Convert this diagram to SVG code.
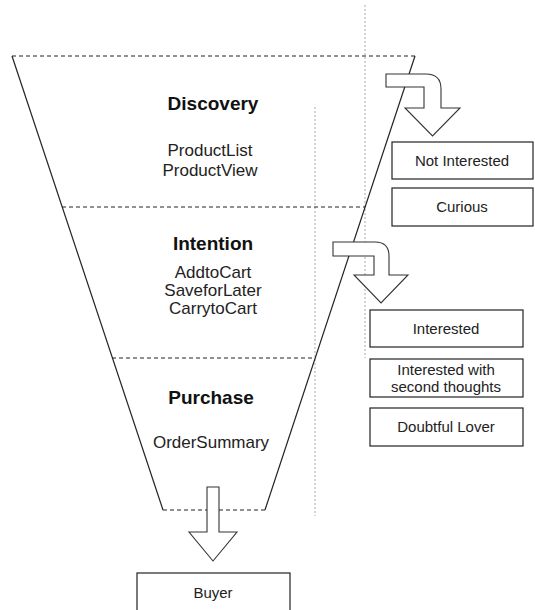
<svg xmlns="http://www.w3.org/2000/svg" width="535" height="610" viewBox="0 0 535 610">
<style>
.bg{fill:#fff}
.dash{stroke:#222;stroke-width:1;stroke-dasharray:4 3;fill:none}
.dot{stroke:#aaa;stroke-width:1;stroke-dasharray:2 2;fill:none}
.side{stroke:#222;stroke-width:1.2;fill:none}
.box{fill:#fff;stroke:#222;stroke-width:1.2}
.arr{fill:#fff;stroke:#333;stroke-width:1.1;stroke-linejoin:miter}
.h{font-family:"Liberation Sans",Arial,sans-serif;font-weight:bold;font-size:19px;fill:#111;text-anchor:middle}
.t{font-family:"Liberation Sans",Arial,sans-serif;font-size:17px;fill:#222;text-anchor:middle}
.b{font-family:"Liberation Sans",Arial,sans-serif;font-size:15px;fill:#222;text-anchor:middle}
</style>
<rect class="bg" x="0" y="0" width="535" height="610"/>
<g id="guides">
<line class="dot" x1="365" y1="5" x2="365" y2="358"/>
<line class="dot" x1="315" y1="107" x2="315" y2="516"/>
</g>
<g id="funnel">
<line class="side" x1="12" y1="56" x2="163" y2="510"/>
<line class="side" x1="415" y1="56" x2="265" y2="510"/>
<line class="dash" x1="12" y1="56" x2="415" y2="56"/>
<line class="dash" x1="62" y1="207" x2="365" y2="207"/>
<line class="dash" x1="112" y1="358" x2="315" y2="358"/>
<line class="dash" x1="163" y1="510" x2="265" y2="510"/>
</g>
<g id="discovery">
<text class="h" x="213" y="110">Discovery</text>
<text class="t" x="210" y="156">ProductList</text>
<text class="t" x="210" y="176">ProductView</text>
</g>
<g id="intention">
<text class="h" x="213" y="250">Intention</text>
<text class="t" x="213" y="278">AddtoCart</text>
<text class="t" x="213" y="296">SaveforLater</text>
<text class="t" x="213" y="314">CarrytoCart</text>
</g>
<g id="purchase">
<text class="h" x="211" y="404">Purchase</text>
<text class="t" x="211" y="448">OrderSummary</text>
</g>
<g id="connectors">
<path class="arr" d="M386,74 H426 Q441,74 441,89 V108 H460 L432.5,136 L405,108 H424 V87 H386 Z"/>
<path class="arr" d="M333,242 H375 Q389,242 389,256 V275 H408 L381,303 L354,275 H374 V256 H333 Z"/>
<path class="arr" d="M207,487 H219 V532 H237 L213,561 L189,532 H207 Z"/>
</g>
<g id="not-interested">
<rect class="box" x="392" y="142" width="141" height="37"/>
<text class="b" x="462" y="166">Not Interested</text>
</g>
<g id="curious">
<rect class="box" x="392" y="188" width="141" height="38"/>
<text class="b" x="462" y="212">Curious</text>
</g>
<g id="interested">
<rect class="box" x="370" y="310" width="153" height="37"/>
<text class="b" x="446" y="334">Interested</text>
</g>
<g id="second-thoughts">
<rect class="box" x="370" y="359" width="153" height="38"/>
<text class="b" x="446" y="375">Interested with</text>
<text class="b" x="446" y="392">second thoughts</text>
</g>
<g id="doubtful-lover">
<rect class="box" x="370" y="408" width="153" height="38"/>
<text class="b" x="446" y="432">Doubtful Lover</text>
</g>
<g id="buyer">
<rect class="box" x="137" y="573" width="153" height="50"/>
<text class="b" x="213" y="598">Buyer</text>
</g>
</svg>
